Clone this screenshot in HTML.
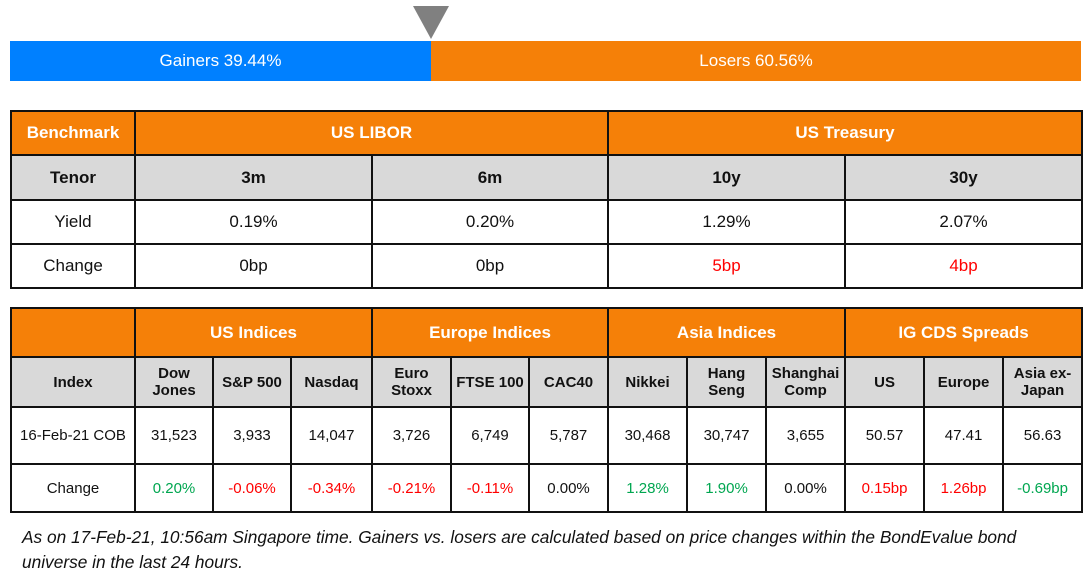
<!DOCTYPE html>
<html><head><style>
body{margin:0;width:1092px;height:575px;background:#fff;font-family:"Liberation Sans",sans-serif;position:relative;overflow:hidden}
.bar{position:absolute;top:41px;height:40px;color:#fff;font-size:17px;line-height:40px;text-align:center}
.tri{position:absolute;left:413px;top:6px;width:0;height:0;border-left:18px solid transparent;border-right:18px solid transparent;border-top:33px solid #808080}
table{position:absolute;left:10px;border-collapse:collapse;table-layout:fixed;width:1072px}
td{border:2px solid #111;text-align:center;font-size:15px;color:#111;padding:0}
.o{background:#f58008;color:#fff;font-weight:bold;font-size:17px}
.g{background:#d9d9d9;font-weight:bold;font-size:15px}
.r{color:#f00}.gr{color:#00a650}
.note{position:absolute;left:22px;top:525px;font-style:italic;font-size:17.3px;line-height:25px;color:#111;width:1030px}
</style></head><body>
<div class="tri"></div>
<div class="bar" style="left:10px;width:421px;background:#0080ff">Gainers 39.44%</div>
<div class="bar" style="left:431px;width:650px;background:#f58008">Losers 60.56%</div>
<table style="top:110px">
<colgroup><col style="width:124px"><col style="width:237px"><col style="width:236px"><col style="width:237px"><col style="width:237px"></colgroup>
<tr style="height:44px"><td class="o">Benchmark</td><td class="o" colspan="2">US LIBOR</td><td class="o" colspan="2">US Treasury</td></tr>
<tr style="height:45px"><td class="g" style="font-size:17px">Tenor</td><td class="g" style="font-size:17px">3m</td><td class="g" style="font-size:17px">6m</td><td class="g" style="font-size:17px">10y</td><td class="g" style="font-size:17px">30y</td></tr>
<tr style="height:44px"><td style="font-size:17px">Yield</td><td style="font-size:17px">0.19%</td><td style="font-size:17px">0.20%</td><td style="font-size:17px">1.29%</td><td style="font-size:17px">2.07%</td></tr>
<tr style="height:44px"><td style="font-size:17px">Change</td><td style="font-size:17px">0bp</td><td style="font-size:17px">0bp</td><td class="r" style="font-size:17px">5bp</td><td class="r" style="font-size:17px">4bp</td></tr>
</table>
<table style="top:307px">
<colgroup><col style="width:124px"><col style="width:78px"><col style="width:78px"><col style="width:81px"><col style="width:79px"><col style="width:78px"><col style="width:79px"><col style="width:79px"><col style="width:79px"><col style="width:79px"><col style="width:79px"><col style="width:79px"><col style="width:79px"></colgroup>
<tr style="height:49px"><td class="o"></td><td class="o" colspan="3">US Indices</td><td class="o" colspan="3">Europe Indices</td><td class="o" colspan="3">Asia Indices</td><td class="o" colspan="3">IG CDS Spreads</td></tr>
<tr style="height:50px"><td class="g">Index</td><td class="g">Dow<br>Jones</td><td class="g">S&amp;P 500</td><td class="g">Nasdaq</td><td class="g">Euro<br>Stoxx</td><td class="g">FTSE 100</td><td class="g">CAC40</td><td class="g">Nikkei</td><td class="g">Hang<br>Seng</td><td class="g">Shanghai<br>Comp</td><td class="g">US</td><td class="g">Europe</td><td class="g">Asia ex-<br>Japan</td></tr>
<tr style="height:57px"><td>16-Feb-21 COB</td><td>31,523</td><td>3,933</td><td>14,047</td><td>3,726</td><td>6,749</td><td>5,787</td><td>30,468</td><td>30,747</td><td>3,655</td><td>50.57</td><td>47.41</td><td>56.63</td></tr>
<tr style="height:48px"><td>Change</td><td class="gr">0.20%</td><td class="r">-0.06%</td><td class="r">-0.34%</td><td class="r">-0.21%</td><td class="r">-0.11%</td><td>0.00%</td><td class="gr">1.28%</td><td class="gr">1.90%</td><td>0.00%</td><td class="r">0.15bp</td><td class="r">1.26bp</td><td class="gr">-0.69bp</td></tr>
</table>
<div class="note">As on 17-Feb-21, 10:56am Singapore time. Gainers vs. losers are calculated based on price changes within the BondEvalue bond<br>universe in the last 24 hours.</div>
</body></html>
